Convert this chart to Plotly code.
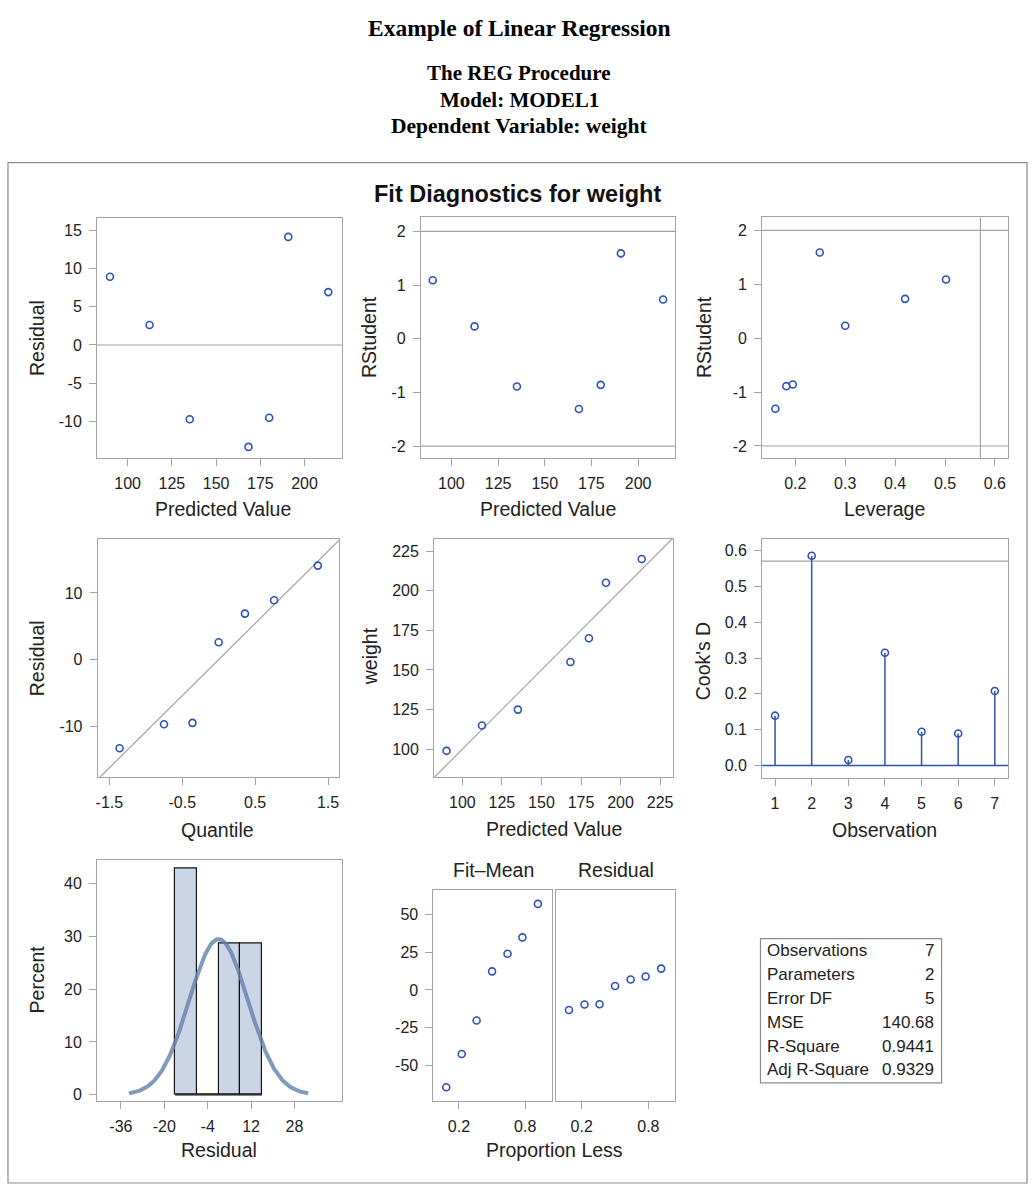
import numpy as np
import plotly.graph_objects as go

W, H = 1034, 1188

# ---------------- data ----------------
observation = [1, 2, 3, 4, 5, 6, 7]
predicted = [168.3, 90.0, 112.4, 190.8, 180.0, 135.1, 213.4]
residual = [-13.3, 8.9, 2.6, 14.1, -9.5, -9.7, 6.9]
weight = [155, 99, 115, 205, 170, 125, 220]
rstudent = [-1.31, 1.09, 0.23, 1.59, -0.86, -0.89, 0.73]
leverage = [0.160, 0.502, 0.300, 0.249, 0.195, 0.182, 0.420]
cooks_d = [0.139, 0.586, 0.015, 0.315, 0.094, 0.089, 0.208]

qq_quantile = [-1.36, -0.75, -0.36, 0.0, 0.36, 0.76, 1.36]
qq_residual = sorted(residual)

prop_less = [0.085, 0.225, 0.36, 0.5, 0.64, 0.775, 0.915]
fit_minus_mean = [-64.5, -42.5, -20.3, 12.3, 24.0, 34.8, 57.0]
rf_residual = sorted(residual)

hist_mid = [-12, -4, 4, 12]
hist_pct = [42.86, 0.0, 28.57, 28.57]
hist_width = 8
resid_mean = 0.0
resid_sd = 10.83

rstudent_limit = 2.0
leverage_cutoff = 0.571
cooks_cutoff = 0.571

stat_labels = ["Observations", "Parameters", "Error DF", "MSE", "R-Square", "Adj R-Square"]
stat_values = ["7", "2", "5", "140.68", "0.9441", "0.9329"]

# ---------------- styling ----------------
BLUE = "#2f52b5"
GRAY = "#a4a4a4"
TXT = "#222222"
FONT = "Liberation Sans"
TICK = dict(family=FONT, size=16, color=TXT)

# panel pixel boxes: left, right, top, bottom
P = {
    1: (95.3, 340.7, 218.3, 458.8),
    2: (420.0, 675.0, 218.0, 459.0),
    3: (762.3, 1009.3, 218.0, 459.0),
    4: (96.0, 338.3, 540.0, 778.8),
    5: (433.3, 672.7, 540.0, 778.8),
    6: (762.3, 1009.3, 540.0, 779.5),
    7: (95.3, 340.7, 861.7, 1103.3),
    8: (432.7, 551.3, 892.7, 1103.3),
    9: (555.7, 675.0, 892.7, 1103.3),
}


def xn(i):
    return "x" if i == 1 else f"x{i}"


def yn(i):
    return "y" if i == 1 else f"y{i}"


def dx(i):
    l, r, t, b = P[i]
    return [l / W, r / W]


def dy(i):
    l, r, t, b = P[i]
    return [1 - b / H, 1 - t / H]


def ax(domain, rng, tickvals, fmt="{:g}", **kw):
    d = dict(
        domain=domain,
        range=rng, tickvals=tickvals, ticktext=[fmt.format(v) for v in tickvals],
        showline=True, linecolor=GRAY,
        linewidth=1, mirror=True, ticks="outside", ticklen=7, tickcolor=GRAY,
        ticklabelstandoff=4,
        showgrid=False, zeroline=False, tickfont=TICK, fixedrange=True,
    )
    d.update(kw)
    return d


fig = go.Figure()
mk = dict(symbol="circle-open", size=7, color=BLUE, line=dict(width=1.6, color=BLUE))


def pts(x, y, i):
    fig.add_trace(go.Scatter(x=x, y=y, mode="markers", marker=mk,
                             xaxis=xn(i), yaxis=yn(i), showlegend=False,
                             hoverinfo="skip"))


# 1 residual vs predicted
pts(predicted, residual, 1)
# 2 rstudent vs predicted
pts(predicted, rstudent, 2)
# 3 rstudent vs leverage
pts(leverage, rstudent, 3)
# 4 QQ plot
qx = [-1.66, 1.66]
fig.add_trace(go.Scatter(x=qx, y=[resid_mean + resid_sd * q for q in qx], mode="lines",
                         line=dict(color=GRAY, width=1.2), xaxis="x4", yaxis="y4",
                         showlegend=False, hoverinfo="skip"))
pts(qq_quantile, qq_residual, 4)
# 5 observed vs predicted
diag = [80, 240]
fig.add_trace(go.Scatter(x=diag, y=diag, mode="lines", line=dict(color=GRAY, width=1.2),
                         xaxis="x5", yaxis="y5", showlegend=False, hoverinfo="skip"))
pts(predicted, weight, 5)
# 6 Cook's D needles
nx, ny = [], []
for o, d in zip(observation, cooks_d):
    nx += [o, o, None]
    ny += [0, d, None]
fig.add_trace(go.Scatter(x=nx, y=ny, mode="lines", line=dict(color=BLUE, width=1.5),
                         xaxis="x6", yaxis="y6", showlegend=False, hoverinfo="skip"))
pts(observation, cooks_d, 6)
# 7 histogram + normal curve
fig.add_trace(go.Bar(x=hist_mid, y=hist_pct, width=hist_width,
                     marker=dict(color="#cad5e6", line=dict(color="#111111", width=1.2)),
                     xaxis="x7", yaxis="y7", showlegend=False, hoverinfo="skip"))
edges = [hist_mid[0] - hist_width / 2, hist_mid[-1] + hist_width / 2]
fig.add_trace(go.Scatter(x=edges, y=[0, 0], mode="lines", line=dict(color="#111111", width=1.2),
                         xaxis="x7", yaxis="y7", showlegend=False, hoverinfo="skip"))
cx = np.linspace(resid_mean - 3.05 * resid_sd, resid_mean + 3.05 * resid_sd, 200)
cy = 100 * hist_width * np.exp(-0.5 * ((cx - resid_mean) / resid_sd) ** 2) / (resid_sd * np.sqrt(2 * np.pi))
fig.add_trace(go.Scatter(x=cx, y=cy, mode="lines", line=dict(color="rgba(100,128,170,0.8)", width=4),
                         xaxis="x7", yaxis="y7", showlegend=False, hoverinfo="skip"))
# 8/9 residual-fit spread
pts(prop_less, fit_minus_mean, 8)
pts(prop_less, rf_residual, 9)

# ---------------- axes ----------------
F1 = "{:.1f}"
lay = {}
lay["xaxis"] = ax(dx(1), [82.7, 221], [100, 125, 150, 175, 200], anchor="y")
lay["yaxis"] = ax(dy(1), [-14.7, 16.6], [-10, -5, 0, 5, 10, 15], anchor="x")
lay["xaxis2"] = ax(dx(2), [83.6, 219.8], [100, 125, 150, 175, 200], anchor="y2")
lay["yaxis2"] = ax(dy(2), [-2.22, 2.26], [-2, -1, 0, 1, 2], anchor="x2")
lay["xaxis3"] = ax(dx(3), [0.1334, 0.627], [0.2, 0.3, 0.4, 0.5, 0.6], F1, anchor="y3")
lay["yaxis3"] = ax(dy(3), [-2.22, 2.24], [-2, -1, 0, 1, 2], anchor="x3")
lay["xaxis4"] = ax(dx(4), [-1.66, 1.655], [-1.5, -0.5, 0.5, 1.5], F1, anchor="y4")
lay["yaxis4"] = ax(dy(4), [-17.6, 18.15], [-10, 0, 10], anchor="x4")
lay["xaxis5"] = ax(dx(5), [82.1, 233], [100, 125, 150, 175, 200, 225], anchor="y5")
lay["yaxis5"] = ax(dy(5), [82.6, 232.8], [100, 125, 150, 175, 200, 225], anchor="x5")
lay["xaxis6"] = ax(dx(6), [0.646, 7.37], observation, anchor="y6")
lay["yaxis6"] = ax(dy(6), [-0.034, 0.634], [0, 0.1, 0.2, 0.3, 0.4, 0.5, 0.6], F1, anchor="x6")
lay["xaxis7"] = ax(dx(7), [-44.8, 45.4], [-36, -20, -4, 12, 28], anchor="y7")
lay["yaxis7"] = ax(dy(7), [-1.07, 44.5], [0, 10, 20, 30, 40], anchor="x7")
lay["xaxis8"] = ax(dx(8), [-0.031, 1.04], [0.2, 0.8], F1, anchor="y8")
lay["yaxis8"] = ax(dy(8), [-73.3, 65.9], [-50, -25, 0, 25, 50], anchor="x8")
lay["xaxis9"] = ax(dx(9), [-0.031, 1.04], [0.2, 0.8], F1, anchor="y9")
lay["yaxis9"] = ax(dy(9), [-73.3, 65.9], [], anchor="x9", ticks="", showticklabels=False)

# ---------------- shapes ----------------
shapes = []


def hline(i, y, color=GRAY, width=1.2):
    shapes.append(dict(type="line", xref=f"{xn(i)} domain", x0=0, x1=1, yref=yn(i),
                       y0=y, y1=y, line=dict(color=color, width=width), layer="below"))


def vline(i, x, color=GRAY, width=1.2):
    shapes.append(dict(type="line", yref=f"{yn(i)} domain", y0=0, y1=1, xref=xn(i),
                       x0=x, x1=x, line=dict(color=color, width=width), layer="below"))


hline(1, 0)
hline(2, rstudent_limit)
hline(2, -rstudent_limit)
hline(3, rstudent_limit)
hline(3, -rstudent_limit)
vline(3, leverage_cutoff)
hline(6, cooks_cutoff)
hline(6, 0, color=BLUE, width=1.5)

# outer frame
shapes.append(dict(type="rect", xref="paper", yref="paper", x0=6 / W, x1=1028 / W,
                   y0=1 - 1186 / H, y1=1 - 163 / H, line=dict(color="#8c8c8c", width=1.2)))
# stats table frame
tl, tr, tt, tb = 760.7, 942.3, 941.0, 1085.7
shapes.append(dict(type="rect", xref="paper", yref="paper", x0=tl / W, x1=tr / W,
                   y0=1 - tb / H, y1=1 - tt / H, line=dict(color="#8c8c8c", width=1.2)))

# ---------------- annotations ----------------
ann = []


def text(x, y, s, size=18, family=FONT, angle=0, xanchor="center", bold=False, color=TXT):
    ann.append(dict(x=x / W, y=1 - y / H, xref="paper", yref="paper", text=f"<b>{s}</b>" if bold else s,
                    showarrow=False, textangle=angle, xanchor=xanchor, yanchor="middle",
                    font=dict(family=family, size=size, color=color)))


SERIF = "Liberation Serif"
text(519, 28, "Example of Linear Regression", size=23.5, family=SERIF, bold=True, color="#000")
text(519, 73, "The REG Procedure", size=21, family=SERIF, bold=True, color="#000")
text(519, 100, "Model: MODEL1", size=21, family=SERIF, bold=True, color="#000")
text(519, 126, "Dependent Variable: weight", size=21.5, family=SERIF, bold=True, color="#000")
text(517, 194, "Fit Diagnostics for weight", size=23.5, bold=True, color="#111")

AT = 19.5
text(222, 510, "Predicted Value", size=AT)
text(35, 339, "Residual", size=AT, angle=-90)
text(547.5, 510, "Predicted Value", size=AT)
text(368, 338, "RStudent", size=AT, angle=-90)
text(885, 510, "Leverage", size=AT)
text(704, 338, "RStudent", size=AT, angle=-90)
text(216, 832, "Quantile", size=AT)
text(35, 660, "Residual", size=AT, angle=-90)
text(554, 831, "Predicted Value", size=AT)
text(369, 658, "weight", size=AT, angle=-90)
text(885, 832, "Observation", size=AT)
text(703, 662, "Cook's D", size=AT, angle=-90)
text(218, 1153, "Residual", size=AT)
text(35, 982, "Percent", size=AT, angle=-90)
text(554, 1153, "Proportion Less", size=AT)
text(493, 872, "Fit\u2013Mean", size=AT)
text(616, 872, "Residual", size=AT)

row_y = [952.7, 976.7, 1000.7, 1024.7, 1048.7, 1072.7]
for yy, lab, val in zip(row_y, stat_labels, stat_values):
    text(765, yy, lab, size=17, xanchor="left")
    text(937, yy, val, size=17, xanchor="right")

fig.update_layout(
    width=W, height=H, margin=dict(l=0, r=0, t=0, b=0),
    paper_bgcolor="white", plot_bgcolor="white",
    shapes=shapes, annotations=ann, bargap=0, showlegend=False,
    **lay,
)

fig.write_html("out.html", post_script="document.body.style.margin='0';",
               config={"displayModeBar": False})
